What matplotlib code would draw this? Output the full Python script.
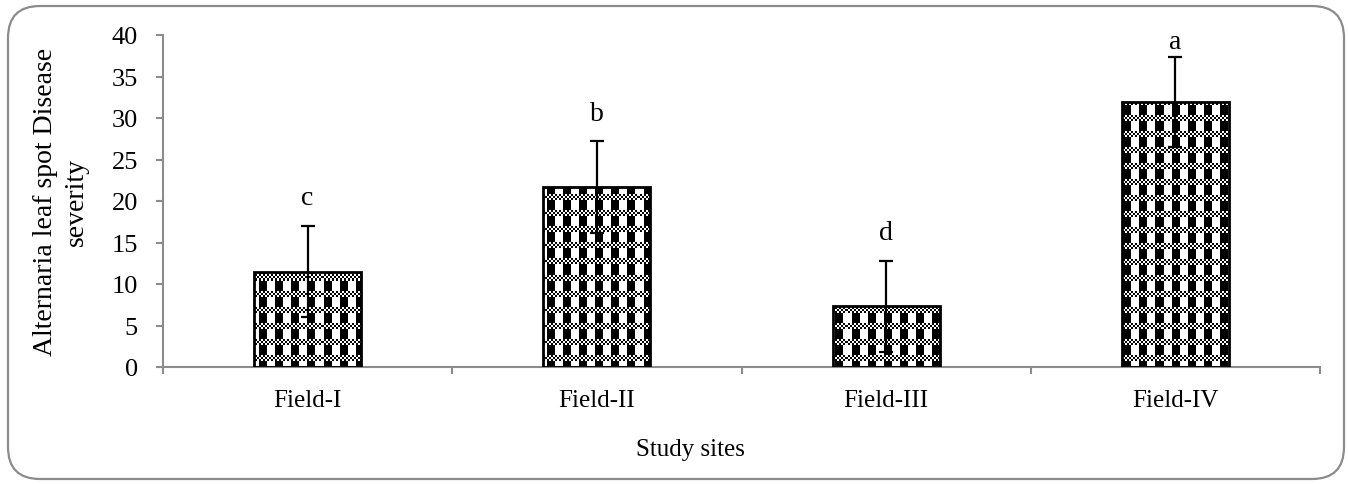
import numpy as np
import matplotlib.pyplot as plt
from matplotlib.patches import FancyBboxPatch

# data
sites = ['Field-I', 'Field-II', 'Field-III', 'Field-IV']
severity = [11.5, 21.7, 7.3, 31.9]
errors = [5.5, 5.5, 5.5, 5.4]
letters = ['c', 'b', 'd', 'a']

plt.rcParams['font.family'] = ['Liberation Serif', 'DejaVu Serif']

fig = plt.figure(figsize=(13.48, 4.85), dpi=100)
ax = fig.add_axes([163 / 1348, 1 - 368 / 485, 1157 / 1348, 332 / 485])

# rounded outer frame
frame = FancyBboxPatch((0.08, 0.05), 13.36, 4.73,
                       boxstyle="round,pad=0,rounding_size=0.32",
                       transform=fig.dpi_scale_trans, facecolor='none',
                       edgecolor='#8c8c8c', linewidth=1.6, clip_on=False)
fig.patches.append(frame)

x = np.arange(len(sites))
bars = ax.bar(x, severity, width=0.37, color='white', edgecolor='black',
              linewidth=2, zorder=2)

# checker texture, built on the pixel grid of the axes
h, w = 332, 1157
yy, xx = np.mgrid[0:h, 0:w]
ty, tx = yy % 16, xx % 16
fine = ((yy // 2 + xx // 2) % 2 == 0) & (ty < 6)
block = (ty >= 6) & (tx < 8)
tex = np.where(fine | block, 0.0, 1.0)

for b in bars:
    im = ax.imshow(tex, cmap='gray', vmin=0, vmax=1, interpolation='nearest',
                   extent=(-0.5, 3.5, 0, 40), aspect='auto', zorder=2.5)
    im.set_clip_path(b)
    b.set_facecolor('none')
    b.set_zorder(3)

ax.errorbar(x, severity, yerr=errors, fmt='none', ecolor='black',
            elinewidth=1.6, capsize=5, capthick=1.6, zorder=4)

for i, lab in enumerate(letters):
    ty_ = min(severity[i] + errors[i] + 3.4, 39.2)
    ax.text(x[i], ty_, lab, ha='center', va='center', fontsize=20)

ax.set_xlim(-0.5, 3.5)
ax.set_ylim(0, 40)
ax.set_yticks(np.arange(0, 41, 5))
ax.set_xticks(x)
ax.set_xticklabels(sites)
ax.set_xticks(np.arange(-0.5, 3.6, 1), minor=True)
ax.tick_params(axis='x', which='major', length=0, pad=16, labelsize=18)
ax.tick_params(axis='x', which='minor', length=5, color='#8c8c8c', width=1.5)
ax.tick_params(axis='y', length=5, color='#8c8c8c', width=1.5, labelsize=19, pad=13)

for s in ['top', 'right']:
    ax.spines[s].set_visible(False)
for s in ['left', 'bottom']:
    ax.spines[s].set_color('#8c8c8c')
    ax.spines[s].set_linewidth(1.5)

ax.set_xlabel('Study sites', fontsize=18)
ax.xaxis.set_label_coords(0.456, -0.215)
ax.set_ylabel('Alternaria leaf spot Disease\nseverity', fontsize=20,
              linespacing=1.3)
ax.yaxis.set_label_coords(-0.064, 0.5)
ax.set_facecolor('none')

fig.savefig('out.png', dpi=100)
